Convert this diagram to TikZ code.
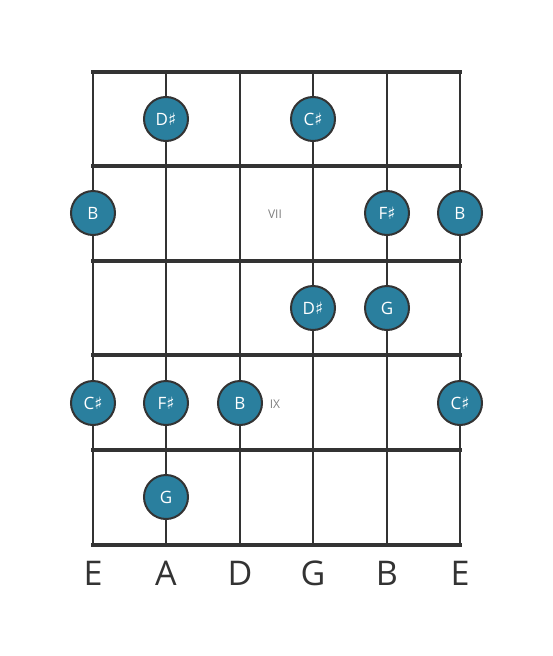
\documentclass[tikz,border=0pt]{standalone}
\usepackage{fontspec}
\setmainfont{Open Sans}
\newfontfamily\symfont{DejaVu Sans}
\definecolor{notefill}{HTML}{2A7F9E}
\definecolor{ink}{HTML}{333333}
\newcommand{\shp}{{\symfont\char"266F}}
\begin{document}
\begin{tikzpicture}[x=1pt,y=-1pt,
  fret/.style={ink,line width=4.5pt},
  gstring/.style={ink,line width=2.6pt},
  note/.style={circle,fill=notefill,draw=ink,line width=2pt,minimum size=44pt,inner sep=0pt,text=white,font=\fontsize{17}{17}\selectfont},
  fretpos/.style={text=gray,font=\fontsize{12}{12}\selectfont},
  slabel/.style={text=ink,font=\fontsize{34}{34}\selectfont}]
\useasboundingbox (0,0) rectangle (553,656);
% strings
\foreach \x/\n in {93/1,166/2,240/3,313/4,387/5,460/6}{
  \coordinate (t\n) at (\x,72);
  \coordinate (b\n) at (\x,545);
  \draw[gstring] (t\n) -- (b\n);
}
% frets
\foreach \y/\n in {72/0,166/1,261/2,355/3,450/4,545/5}{
  \coordinate (fl\n) at (93,\y);
  \coordinate (fr\n) at (460,\y);
  \draw[fret,line cap=rect] (fl\n) -- (fr\n);
}
% position labels
\node[fretpos] (vii) at (275,214) {VII};
\node[fretpos] (ix) at (275,404) {IX};
% notes
\node[note] (n1) at (166,119) {D\shp};
\node[note] (n2) at (313,119) {C\shp};
\node[note] (n3) at (93,213) {B};
\node[note] (n4) at (387,213) {F\shp};
\node[note] (n5) at (460,213) {B};
\node[note] (n6) at (313,308) {D\shp};
\node[note] (n7) at (387,308) {G};
\node[note] (n8) at (93,403) {C\shp};
\node[note] (n9) at (166,403) {F\shp};
\node[note] (n10) at (240,403) {B};
\node[note] (n11) at (460,403) {C\shp};
\node[note] (n12) at (166,497) {G};
% string names
\foreach \x/\s/\n in {93/E/1,166/A/2,240/D/3,313/G/4,387/B/5,460/E/6}{
  \node[slabel] (s\n) at (\x,573) {\s};
}
\end{tikzpicture}
\end{document}
